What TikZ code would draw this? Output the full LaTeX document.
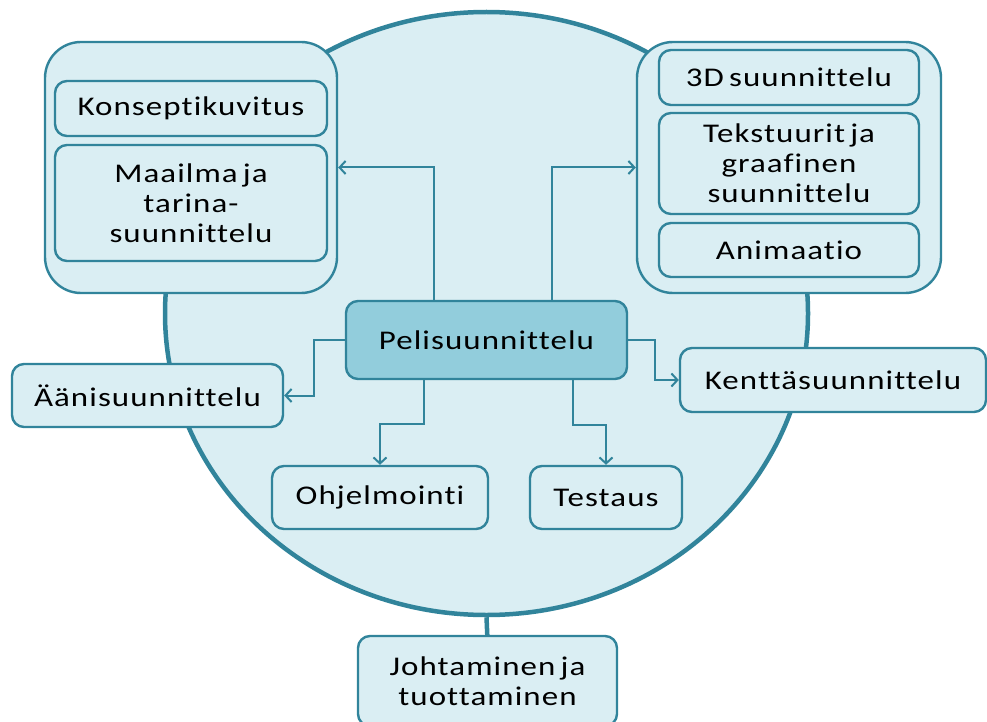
\documentclass[tikz,border=0pt]{standalone}
\usepackage{fontspec}
\setmainfont{Carlito}[FakeStretch=1.22, LetterSpace=4, WordSpace=0.6, Ligatures={NoCommon}, RawFeature={-liga}]
\usetikzlibrary{shapes.geometric,arrows.meta}
\definecolor{edge}{HTML}{31849B}
\definecolor{pale}{HTML}{DAEEF3}
\definecolor{core}{HTML}{92CDDC}
\begin{document}
\begin{tikzpicture}[x=1pt,y=-1pt,
  every node/.style={font=\fontsize{27}{30}\selectfont, text=black, align=center, inner sep=0pt},
  box/.style={draw=edge, fill=pale, line width=2.4pt, rounded corners=12pt},
  group/.style={draw=edge, fill=pale, line width=2.4pt, rounded corners=36pt},
  conn/.style={draw=edge, line width=2pt, -{Straight Barb[length=6pt,width=13pt,line width=2pt]}}]
\useasboundingbox (0,0) rectangle (987,722);
% central disk
\node[ellipse, draw=edge, fill=pale, line width=4.5pt, minimum width=643pt, minimum height=603pt] (disk) at (486.5,313.5) {};
\draw[edge, line width=4.5pt] (disk.south) -- (487.5,640) coordinate (jtop);
% left group
\node[group, minimum width=292pt, minimum height=251pt] (grpL) at (191,167.5) {};
\node[box, minimum width=272pt, minimum height=55pt] (konsept) at (191,108.5) {Konseptikuvitus};
\node[box, minimum width=272pt, minimum height=116pt] (maailma) at (191,203) {Maailma ja\\tarina-\\suunnittelu};
% right group
\node[group, minimum width=304pt, minimum height=251pt] (grpR) at (789,167.5) {};
\node[box, minimum width=260pt, minimum height=55pt] (d3) at (789,77.5) {3D suunnittelu};
\node[box, minimum width=260pt, minimum height=101pt] (tekst) at (789,163.5) {Tekstuurit ja\\graafinen\\suunnittelu};
\node[box, minimum width=260pt, minimum height=54pt] (anim) at (789,250) {Animaatio};
% centre and satellites
\node[box, fill=core, minimum width=281pt, minimum height=78pt] (peli) at (486.5,340) {Pelisuunnittelu};
\node[box, minimum width=271pt, minimum height=63pt] (aani) at (147.5,395.5) {Äänisuunnittelu};
\node[box, minimum width=306pt, minimum height=64pt] (kentta) at (833,380) {Kenttäsuunnittelu};
\node[box, minimum width=216pt, minimum height=63pt] (ohj) at (380,497.5) {Ohjelmointi};
\node[box, minimum width=152pt, minimum height=63pt] (test) at (606,497.5) {Testaus};
\node[box, minimum width=259pt, minimum height=90pt] (joht) at (487.5,681) {Johtaminen ja\\tuottaminen};
% connectors
\draw[conn] ([xshift=-52.5pt]peli.north) |- (grpL.east);
\draw[conn] ([xshift=65.5pt]peli.north) |- (grpR.west);
\draw[conn] (peli.west) -- ++(-31,0) |- (aani.east);
\draw[conn] (peli.east) -- ++(27,0) |- (kentta.west);
\draw[conn] ([xshift=-62.5pt]peli.south) -- ++(0,44) -| (ohj.north);
\draw[conn] ([xshift=86.5pt]peli.south) -- ++(0,45) -| (test.north);
\end{tikzpicture}
\end{document}
